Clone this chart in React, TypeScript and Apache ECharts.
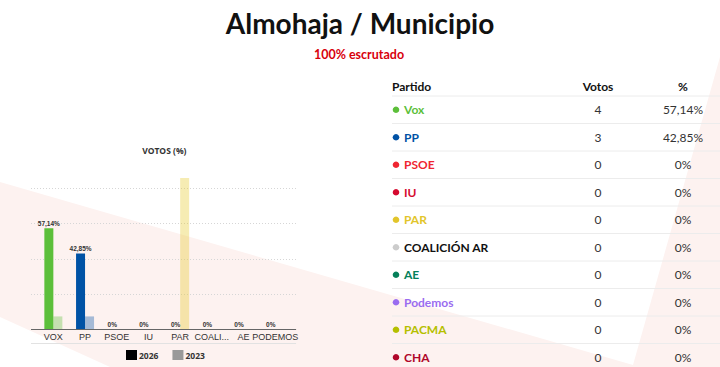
import React, { useEffect, useRef } from 'react';
import * as echarts from 'echarts';

// ---- chart data ----
const chartTitle = 'VOTOS (%)';
const categories = ['VOX', 'PP', 'PSOE', 'IU', 'PAR', 'COALICIÓN AR', 'AE', 'PODEMOS'];
const pct2026 = [57.14, 42.85, 0, 0, 0, 0, 0, 0];
const pct2023 = [7.14, 7.14, 0, 0, 85.71, 0, 0, 0];
const barColors = ['#5cbf3a', '#0052a5', '#e8232b', '#d0103a', '#e6c925', '#cccccc', '#0a7f55', '#9b6cf5'];
const gridValues = [20, 40, 60, 80];
const legendYears = ['2026', '2023'];
const legendColors = ['#000000', '#999999'];

// ---- table data ----
const pageTitle = 'Almohaja / Municipio';
const pageSubtitle = '100% escrutado';
const tableHeaders = ['Partido', 'Votos', '%'];
const tableParties = ['Vox', 'PP', 'PSOE', 'IU', 'PAR', 'COALICIÓN AR', 'AE', 'Podemos', 'PACMA', 'CHA'];
const tableVotes = [4, 3, 0, 0, 0, 0, 0, 0, 0, 0];
const tablePercents = [57.14, 42.85, 0, 0, 0, 0, 0, 0, 0, 0];
const partyDotColors = ['#5cbf3a', '#0052a5', '#ef2631', '#d50a2f', '#e2c52b', '#cccccc', '#05805a', '#9a6cf0', '#b5bf00', '#b0072a'];
const partyTextColors = ['#5cbf3a', '#0052a5', '#ef2631', '#d50a2f', '#e2c52b', '#111111', '#05805a', '#9a6cf0', '#b5bf00', '#b0072a'];

const fmtPct = (v: number) => (v === 0 ? '0%' : v.toFixed(2).replace('.', ',') + '%');

function hexToRgba(hex: string, a: number) {
  const n = parseInt(hex.slice(1), 16);
  return `rgba(${(n >> 16) & 255},${(n >> 8) & 255},${n & 255},${a})`;
}

export default function App() {
  const ref = useRef<HTMLDivElement>(null);

  useEffect(() => {
    const chart = echarts.init(ref.current!, null, { renderer: 'svg' });

    const gridLeft = 37.5;
    const gridWidth = 253.6;
    const gridTop = 152.8;
    const gridHeight = 176.2;
    const tableFont = 'Lato, "Noto Sans", sans-serif';

    const graphics: any[] = [];
    // background
    graphics.push({
      id: 'bg',
      type: 'polygon',
      z: -10,
      silent: true,
      shape: { points: [[0, 182], [633, 365], [720, 57], [720, 367], [110, 367], [0, 317]] },
      style: { fill: '#fdf2f0' },
    });
    // page titles
    graphics.push({
      id: 'title',
      type: 'text',
      x: 360,
      y: 23,
      style: { text: pageTitle, fill: '#111', font: `bold 28px ${tableFont}`, align: 'center', verticalAlign: 'middle', textAlign: 'center', textVerticalAlign: 'middle' },
    });
    graphics.push({
      id: 'subtitle',
      type: 'text',
      x: 359,
      y: 54,
      style: { text: pageSubtitle, fill: '#d8000c', font: `bold 12.5px ${tableFont}`, align: 'center', verticalAlign: 'middle', textAlign: 'center', textVerticalAlign: 'middle' },
    });
    // table header
    const colX = [392, 598, 683];
    tableHeaders.forEach((h, i) => {
      graphics.push({
        id: 'th' + i,
        type: 'text',
        x: colX[i],
        y: 86.5,
        style: { text: h, fill: '#111', font: `bold 12px ${tableFont}`, align: i === 0 ? 'left' : 'center', verticalAlign: 'middle', textAlign: i === 0 ? 'left' : 'center', textVerticalAlign: 'middle' },
      });
    });
    const rowH = 27.5;
    const firstLine = 96;
    for (let i = 0; i < tableParties.length; i++) {
      const ly = firstLine + i * rowH;
      graphics.push({
        id: 'tl' + i,
        type: 'line',
        silent: true,
        shape: { x1: 392, y1: ly, x2: 720, y2: ly },
        style: { stroke: '#ececec', lineWidth: 1 },
      });
      const cy = ly + rowH / 2;
      graphics.push({
        id: 'td' + i,
        type: 'circle',
        silent: true,
        shape: { cx: 396, cy: cy, r: 3.3 },
        style: { fill: partyDotColors[i] },
      });
      graphics.push({
        id: 'tn' + i,
        type: 'text',
        x: 404,
        y: cy,
        style: { text: tableParties[i], fill: partyTextColors[i], font: `bold 12px ${tableFont}`, align: 'left', verticalAlign: 'middle', textAlign: 'left', textVerticalAlign: 'middle' },
      });
      graphics.push({
        id: 'tv' + i,
        type: 'text',
        x: colX[1],
        y: cy,
        style: { text: String(tableVotes[i]), fill: '#333', font: `12px ${tableFont}`, align: 'center', verticalAlign: 'middle', textAlign: 'center', textVerticalAlign: 'middle' },
      });
      graphics.push({
        id: 'tp' + i,
        type: 'text',
        x: colX[2],
        y: cy,
        style: { text: fmtPct(tablePercents[i]), fill: '#333', font: `12px ${tableFont}`, align: 'center', verticalAlign: 'middle', textAlign: 'center', textVerticalAlign: 'middle' },
      });
    }
    // chart title
    graphics.push({
      id: 'ctitle',
      type: 'text',
      x: gridLeft + gridWidth / 2,
      y: 150,
      style: { text: chartTitle, fill: '#333', font: 'bold 8.5px "Open Sans", sans-serif', align: 'center', verticalAlign: 'middle', textAlign: 'center', textVerticalAlign: 'middle' },
    });

    chart.setOption({
      animation: false,
      backgroundColor: '#ffffff',
      grid: { left: gridLeft, top: gridTop, width: gridWidth, height: gridHeight, containLabel: false },
      legend: {
        left: 126,
        top: 350,
        padding: 0,
        icon: 'rect',
        itemWidth: 11,
        itemHeight: 10,
        itemGap: 14,
        selectedMode: false,
        textStyle: { fontSize: 8.5, fontWeight: 'bold', color: '#333', fontFamily: '"Open Sans", sans-serif', padding: [0, 0, 0, -3] },
        data: legendYears.map((y, i) => ({ name: y, itemStyle: { color: legendColors[i] } })),
      },
      xAxis: {
        type: 'category',
        data: categories,
        axisLine: { show: false },
        axisTick: { show: false },
        axisLabel: {
          interval: 0,
          margin: 3,
          fontSize: 9,
          color: '#333',
          fontFamily: '"Liberation Sans", Arial, sans-serif',
          formatter: (v: string) => (v.length > 8 ? v.slice(0, 5) + '...' : v),
        },
      },
      yAxis: {
        type: 'value',
        min: 0,
        max: 100,
        interval: 20,
        show: false,
        splitLine: { show: false },
      },
      series: [
        {
          name: legendYears[0],
          type: 'bar',
          barWidth: 9,
          barGap: '0%',
          silent: true,
          data: pct2026.map((v, i) => ({ value: v, itemStyle: { color: barColors[i] } })),
          label: {
            show: true,
            position: 'top',
            distance: 1,
            fontSize: 6.5,
            fontWeight: 'bold',
            color: '#333',
            fontFamily: '"Liberation Sans", Arial, sans-serif',
            formatter: (p: any) => fmtPct(p.value),
          },
        },
        {
          name: legendYears[1],
          type: 'bar',
          barWidth: 9,
          barGap: '0%',
          silent: true,
          data: pct2023.map((v, i) => ({ value: v, itemStyle: { color: hexToRgba(barColors[i], 0.35) } })),
        },
      ],
      graphic: graphics,
    });

    // axis decorations computed through the scales
    const y0 = chart.convertToPixel({ yAxisIndex: 0 }, 0) as number;
    const xl = gridLeft - 6.5;
    const xr = gridLeft + gridWidth + 5;
    const extra: any[] = gridValues.map((v, i) => {
      const y = Math.round(chart.convertToPixel({ yAxisIndex: 0 }, v) as number) + 0.5;
      return {
        id: 'gl' + i,
        type: 'line',
        silent: true,
        z: 0,
        shape: { x1: xl, y1: y, x2: xr, y2: y },
        style: { stroke: '#d6d6d6', lineWidth: 1, lineDash: [1, 2] },
      };
    });
    extra.push({
      id: 'xaxis',
      type: 'line',
      silent: true,
      z: 5,
      shape: { x1: xl, y1: Math.round(y0) + 0.5, x2: xr, y2: Math.round(y0) + 0.5 },
      style: { stroke: '#666', lineWidth: 1 },
    });
    extra.push({
      id: 'xunder',
      type: 'line',
      silent: true,
      shape: { x1: xl, y1: Math.round(y0) + 14.5, x2: xr, y2: Math.round(y0) + 14.5 },
      style: { stroke: '#e2e2e2', lineWidth: 1 },
    });
    chart.setOption({ graphic: extra });

    return () => chart.dispose();
  }, []);

  return <div ref={ref} style={{ position: 'absolute', left: 0, top: 0, width: 720, height: 367 }} />;
}
